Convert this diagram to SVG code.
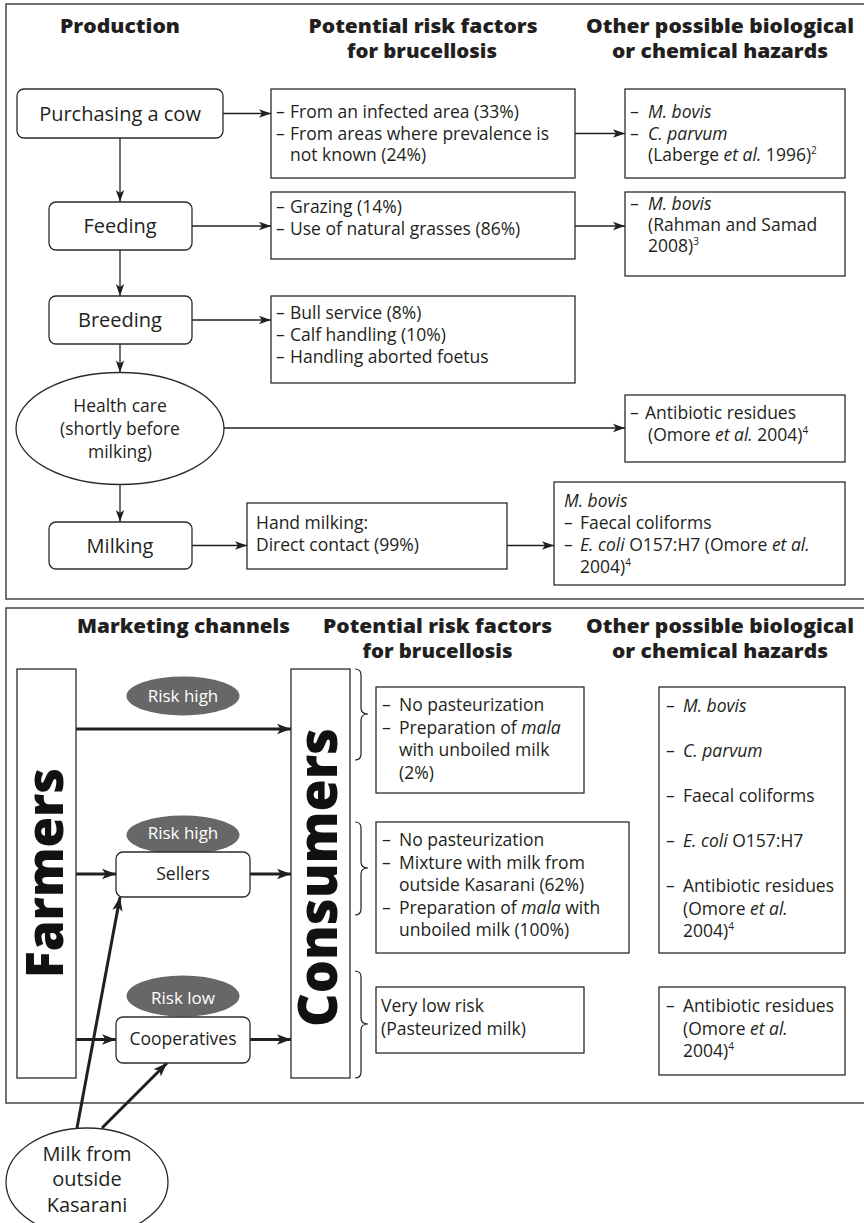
<svg xmlns="http://www.w3.org/2000/svg" width="864" height="1223" viewBox="0 0 864 1223">
  <style>
    text { font-family: "Open Sans", "Noto Sans", "Liberation Sans", sans-serif; fill: #231f20; }
    .hd { font-size: 20px; font-weight: 800; text-anchor: middle; }
    .step { font-size: 20px; text-anchor: middle; }
    .t { font-size: 17.5px; }
    .c { text-anchor: middle; }
    .sup { font-size: 10px; }
    .it { font-style: italic; }
    .box { fill: #fff; stroke: #2b2b2b; stroke-width: 1.3; }
    .panel { fill: none; stroke: #444; stroke-width: 1.5; }
    .thin { fill: none; stroke: #231f20; stroke-width: 1.3; }
    .thick { fill: none; stroke: #231f20; stroke-width: 3; }
    .brace { fill: none; stroke: #231f20; stroke-width: 1.2; }
    .risk { fill: #676767; }
    .risk-t { font-size: 17px; fill: #fff; text-anchor: middle; }
    .big { font-weight: 800; text-anchor: middle; fill: #111; }
  </style>
  <defs>
    <marker id="ah" markerUnits="userSpaceOnUse" markerWidth="13" markerHeight="10" refX="12" refY="5" orient="auto">
      <path d="M0,0.8 L12,5 L0,9.2 L3,5 Z" fill="#231f20"/>
    </marker>
    <marker id="ahb" markerUnits="userSpaceOnUse" markerWidth="15" markerHeight="12" refX="14" refY="6" orient="auto">
      <path d="M0,0.8 L14,6 L0,11.2 L3.5,6 Z" fill="#231f20"/>
    </marker>
  </defs>

  <!-- panel frames (run past the right edge) -->
  <rect class="panel" x="6" y="4" width="880" height="595"/>
  <rect class="panel" x="6" y="608" width="880" height="495"/>

  <!-- column headings -->
  <g id="headings-top">
    <text class="hd" x="120" y="33" textLength="120" lengthAdjust="spacingAndGlyphs">Production</text>
    <text class="hd" x="423" y="33" textLength="229" lengthAdjust="spacingAndGlyphs">Potential risk factors</text>
    <text class="hd" x="422" y="58" textLength="150" lengthAdjust="spacingAndGlyphs">for brucellosis</text>
    <text class="hd" x="720" y="33" textLength="268" lengthAdjust="spacingAndGlyphs">Other possible biological</text>
    <text class="hd" x="720" y="58" textLength="216" lengthAdjust="spacingAndGlyphs">or chemical hazards</text>
  </g>
  <g id="headings-bottom">
    <text class="hd" x="183.5" y="632.5" textLength="213" lengthAdjust="spacingAndGlyphs">Marketing channels</text>
    <text class="hd" x="437.5" y="632.5" textLength="229" lengthAdjust="spacingAndGlyphs">Potential risk factors</text>
    <text class="hd" x="437.5" y="657.5" textLength="150" lengthAdjust="spacingAndGlyphs">for brucellosis</text>
    <text class="hd" x="720" y="632.5" textLength="268" lengthAdjust="spacingAndGlyphs">Other possible biological</text>
    <text class="hd" x="720" y="657.5" textLength="216" lengthAdjust="spacingAndGlyphs">or chemical hazards</text>
  </g>

  <!-- connectors -->
  <g id="connectors">
    <line class="thin" x1="120" y1="138" x2="120" y2="202" marker-end="url(#ah)"/>
    <line class="thin" x1="120" y1="250" x2="120" y2="296" marker-end="url(#ah)"/>
    <line class="thin" x1="120" y1="344" x2="120" y2="372.5" marker-end="url(#ah)"/>
    <line class="thin" x1="120" y1="484.5" x2="120" y2="522" marker-end="url(#ah)"/>
    <line class="thin" x1="223" y1="113.5" x2="271" y2="113.5" marker-end="url(#ah)"/>
    <line class="thin" x1="575" y1="133.5" x2="625" y2="133.5" marker-end="url(#ah)"/>
    <line class="thin" x1="192" y1="226" x2="271" y2="226" marker-end="url(#ah)"/>
    <line class="thin" x1="575" y1="226" x2="625" y2="226" marker-end="url(#ah)"/>
    <line class="thin" x1="192" y1="320" x2="271" y2="320" marker-end="url(#ah)"/>
    <line class="thin" x1="224" y1="428" x2="625" y2="428" marker-end="url(#ah)"/>
    <line class="thin" x1="192" y1="545.5" x2="247" y2="545.5" marker-end="url(#ah)"/>
    <line class="thin" x1="507" y1="545.5" x2="554" y2="545.5" marker-end="url(#ah)"/>

    <line class="thick" x1="76" y1="729" x2="291" y2="729" marker-end="url(#ahb)"/>
    <line class="thick" x1="76" y1="874" x2="116" y2="874" marker-end="url(#ahb)"/>
    <line class="thick" x1="250" y1="874" x2="291" y2="874" marker-end="url(#ahb)"/>
    <line class="thick" x1="76" y1="1039.5" x2="116" y2="1039.5" marker-end="url(#ahb)"/>
    <line class="thick" x1="250" y1="1039.5" x2="291" y2="1039.5" marker-end="url(#ahb)"/>
    <line class="thick" x1="77" y1="1128" x2="120" y2="897" marker-end="url(#ahb)"/>
    <line class="thick" x1="102" y1="1128" x2="167" y2="1063" marker-end="url(#ahb)"/>
  </g>

  <!-- production chain -->
  <g id="purchasing">
    <rect class="box" x="17" y="89" width="206" height="49" rx="7"/>
    <text class="step" x="120" y="120.5">Purchasing a cow</text>
  </g>
  <g id="feeding">
    <rect class="box" x="49" y="202" width="143" height="48" rx="7"/>
    <text class="step" x="120" y="233">Feeding</text>
  </g>
  <g id="breeding">
    <rect class="box" x="49" y="296" width="143" height="48" rx="7"/>
    <text class="step" x="120" y="327">Breeding</text>
  </g>
  <g id="health-care">
    <ellipse class="box" cx="120" cy="428.5" rx="104" ry="56"/>
    <text class="t c" x="120" y="412">Health care</text>
    <text class="t c" x="120" y="435">(shortly before</text>
    <text class="t c" x="120" y="458">milking)</text>
  </g>
  <g id="milking">
    <rect class="box" x="49" y="522" width="143" height="47" rx="7"/>
    <text class="step" x="120" y="552.5">Milking</text>
  </g>

  <!-- brucellosis risk factors, production -->
  <g id="risk-purchasing">
    <rect class="box" x="271" y="89" width="304" height="89"/>
    <text class="t"><tspan x="276" y="118">–</tspan><tspan x="290">From an infected area (33%)</tspan></text>
    <text class="t"><tspan x="276" y="139.5">–</tspan><tspan x="290">From areas where prevalence is</tspan></text>
    <text class="t" x="290" y="161">not known (24%)</text>
  </g>
  <g id="risk-feeding">
    <rect class="box" x="271" y="192" width="304" height="67"/>
    <text class="t"><tspan x="276" y="213">–</tspan><tspan x="290">Grazing (14%)</tspan></text>
    <text class="t"><tspan x="276" y="234.5">–</tspan><tspan x="290">Use of natural grasses (86%)</tspan></text>
  </g>
  <g id="risk-breeding">
    <rect class="box" x="271" y="296" width="304" height="87"/>
    <text class="t"><tspan x="276" y="319">–</tspan><tspan x="290">Bull service (8%)</tspan></text>
    <text class="t"><tspan x="276" y="341">–</tspan><tspan x="290">Calf handling (10%)</tspan></text>
    <text class="t"><tspan x="276" y="363">–</tspan><tspan x="290">Handling aborted foetus</tspan></text>
  </g>
  <g id="risk-milking">
    <rect class="box" x="247" y="503" width="260" height="66"/>
    <text class="t" x="256" y="529">Hand milking:</text>
    <text class="t" x="256" y="551">Direct contact (99%)</text>
  </g>

  <!-- other hazards, production -->
  <g id="hazard-purchasing">
    <rect class="box" x="625" y="89" width="220" height="89"/>
    <text class="t"><tspan x="630" y="118">–</tspan><tspan x="648" class="it">M. bovis</tspan></text>
    <text class="t"><tspan x="630" y="139.5">–</tspan><tspan x="648" class="it">C. parvum</tspan></text>
    <text class="t" x="648" y="161">(Laberge <tspan class="it">et al.</tspan> 1996)<tspan class="sup" dy="-7">2</tspan></text>
  </g>
  <g id="hazard-feeding">
    <rect class="box" x="625" y="192" width="220" height="84"/>
    <text class="t"><tspan x="630" y="210">–</tspan><tspan x="648" class="it">M. bovis</tspan></text>
    <text class="t" x="648" y="231">(Rahman and Samad</text>
    <text class="t" x="648" y="252">2008)<tspan class="sup" dy="-7">3</tspan></text>
  </g>
  <g id="hazard-health-care">
    <rect class="box" x="625" y="395" width="220" height="67"/>
    <text class="t"><tspan x="630" y="419">–</tspan><tspan x="645">Antibiotic residues</tspan></text>
    <text class="t" x="648" y="441">(Omore <tspan class="it">et al.</tspan> 2004)<tspan class="sup" dy="-7">4</tspan></text>
  </g>
  <g id="hazard-milking">
    <rect class="box" x="554" y="482" width="291" height="103"/>
    <text class="t it" x="564" y="507">M. bovis</text>
    <text class="t"><tspan x="564" y="529">–</tspan><tspan x="580">Faecal coliforms</tspan></text>
    <text class="t"><tspan x="564" y="551">–</tspan><tspan x="580"><tspan class="it">E. coli</tspan> O157:H7 (Omore <tspan class="it">et al.</tspan></tspan></text>
    <text class="t" x="580" y="573">2004)<tspan class="sup" dy="-7">4</tspan></text>
  </g>

  <!-- marketing channels -->
  <g id="farmers">
    <rect class="box" x="17" y="669" width="59" height="409"/>
    <text class="big" transform="translate(63,873) rotate(-90)" font-size="52" textLength="210" lengthAdjust="spacingAndGlyphs">Farmers</text>
  </g>
  <g id="consumers">
    <rect class="box" x="291" y="669" width="59" height="409"/>
    <text class="big" transform="translate(337,877.5) rotate(-90)" font-size="55" textLength="299" lengthAdjust="spacingAndGlyphs">Consumers</text>
  </g>
  <g id="risk-direct">
    <ellipse class="risk" cx="183" cy="696" rx="56.5" ry="19.5"/>
    <text class="risk-t" x="183" y="702">Risk high</text>
  </g>
  <g id="risk-sellers">
    <ellipse class="risk" cx="183" cy="835" rx="56.5" ry="19.5"/>
    <text class="risk-t" x="183" y="839">Risk high</text>
  </g>
  <g id="sellers">
    <rect class="box" x="116" y="852" width="134" height="45" rx="7"/>
    <text class="t c" x="183" y="880" font-size="16.5">Sellers</text>
  </g>
  <g id="risk-cooperatives">
    <ellipse class="risk" cx="183" cy="996" rx="56.5" ry="20.5"/>
    <text class="risk-t" x="183" y="1004">Risk low</text>
  </g>
  <g id="cooperatives">
    <rect class="box" x="116" y="1017" width="134" height="46" rx="7"/>
    <text class="t c" x="183" y="1045" font-size="16.5">Cooperatives</text>
  </g>
  <g id="milk-outside">
    <ellipse class="box" cx="87" cy="1182" rx="81" ry="54"/>
    <text class="step" x="87" y="1161">Milk from</text>
    <text class="step" x="87" y="1186">outside</text>
    <text class="step" x="87" y="1212">Kasarani</text>
  </g>

  <!-- braces grouping consumer risks -->
  <g id="braces">
    <path class="brace" d="M355,669 q6,0 6,6 L361,708 q0,6 7,6 q-7,0 -7,6 L361,754 q0,6 -6,6"/>
    <path class="brace" d="M355,822 q6,0 6,6 L361,862 q0,6 7,6 q-7,0 -7,6 L361,909 q0,6 -6,6"/>
    <path class="brace" d="M355,971 q6,0 6,6 L361,1018 q0,6 7,6 q-7,0 -7,6 L361,1072 q0,6 -6,6"/>
  </g>

  <!-- brucellosis risk factors, marketing -->
  <g id="risk-direct-factors">
    <rect class="box" x="376" y="687" width="208" height="106"/>
    <text class="t"><tspan x="382" y="711">–</tspan><tspan x="399">No pasteurization</tspan></text>
    <text class="t"><tspan x="382" y="733.5">–</tspan><tspan x="399">Preparation of <tspan class="it">mala</tspan></tspan></text>
    <text class="t" x="399" y="756">with unboiled milk</text>
    <text class="t" x="399" y="778.5">(2%)</text>
  </g>
  <g id="risk-sellers-factors">
    <rect class="box" x="376" y="822" width="253" height="131"/>
    <text class="t"><tspan x="382" y="846">–</tspan><tspan x="399">No pasteurization</tspan></text>
    <text class="t"><tspan x="382" y="868.5">–</tspan><tspan x="399">Mixture with milk from</tspan></text>
    <text class="t" x="399" y="891">outside Kasarani (62%)</text>
    <text class="t"><tspan x="382" y="913.5">–</tspan><tspan x="399">Preparation of <tspan class="it">mala</tspan> with</tspan></text>
    <text class="t" x="399" y="936">unboiled milk (100%)</text>
  </g>
  <g id="risk-cooperatives-factors">
    <rect class="box" x="376" y="987" width="208" height="66"/>
    <text class="t" x="381" y="1012">Very low risk</text>
    <text class="t" x="381" y="1035">(Pasteurized milk)</text>
  </g>

  <!-- other hazards, marketing -->
  <g id="hazard-raw-milk">
    <rect class="box" x="659" y="687" width="186" height="266"/>
    <text class="t"><tspan x="666" y="712">–</tspan><tspan x="683" class="it">M. bovis</tspan></text>
    <text class="t"><tspan x="666" y="757">–</tspan><tspan x="683" class="it">C. parvum</tspan></text>
    <text class="t"><tspan x="666" y="802">–</tspan><tspan x="683">Faecal coliforms</tspan></text>
    <text class="t"><tspan x="666" y="847">–</tspan><tspan x="683"><tspan class="it">E. coli</tspan> O157:H7</tspan></text>
    <text class="t"><tspan x="666" y="892">–</tspan><tspan x="683">Antibiotic residues</tspan></text>
    <text class="t" x="683" y="914.5">(Omore <tspan class="it">et al.</tspan></text>
    <text class="t" x="683" y="937">2004)<tspan class="sup" dy="-7">4</tspan></text>
  </g>
  <g id="hazard-pasteurized">
    <rect class="box" x="659" y="987" width="186" height="88"/>
    <text class="t"><tspan x="666" y="1012">–</tspan><tspan x="683">Antibiotic residues</tspan></text>
    <text class="t" x="683" y="1034.5">(Omore <tspan class="it">et al.</tspan></text>
    <text class="t" x="683" y="1057">2004)<tspan class="sup" dy="-7">4</tspan></text>
  </g>
</svg>
